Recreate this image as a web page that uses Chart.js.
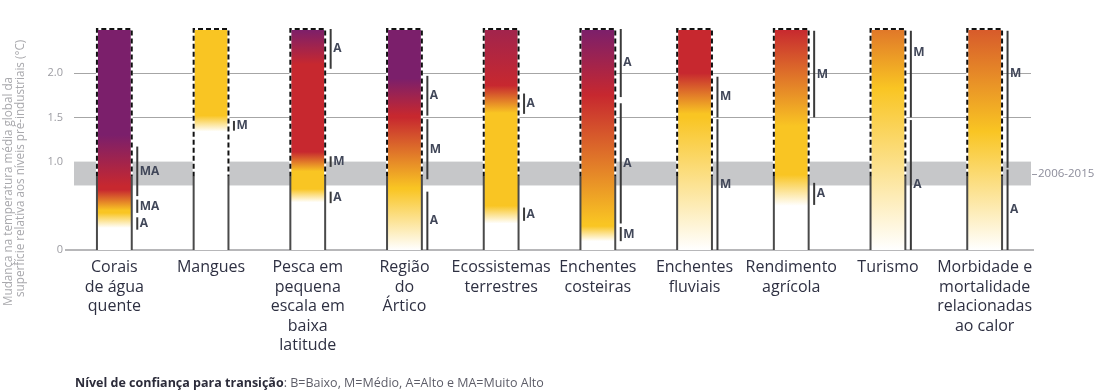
<!DOCTYPE html>
<html lang="pt">
<head>
<meta charset="utf-8">
<title>Níveis de risco por sistema e aquecimento global</title>
<script src="https://cdn.jsdelivr.net/npm/chart.js@4.4.1/dist/chart.umd.min.js"></script>
<style>
  html, body { margin: 0; padding: 0; background: #ffffff; }
  #wrap { position: relative; width: 1098px; height: 391px; }
</style>
</head>
<body>
<div id="wrap"><canvas id="embers" width="1098" height="391"></canvas></div>
<script>
// Sistemas avaliados, um rótulo por categoria (cada entrada é uma linha)
const categories = [
  ['Corais', 'de água', 'quente'],
  ['Mangues'],
  ['Pesca em', 'pequena', 'escala em', 'baixa', 'latitude'],
  ['Região', 'do', 'Ártico'],
  ['Ecossistemas', 'terrestres'],
  ['Enchentes', 'costeiras'],
  ['Enchentes', 'fluviais'],
  ['Rendimento', 'agrícola'],
  ['Turismo'],
  ['Morbidade e', 'mortalidade', 'relacionadas', 'ao calor']
];

// Faixa de aquecimento coberta por cada barra (°C)
const emberSpan = [
  [0, 2.5], [0, 2.5], [0, 2.5], [0, 2.5], [0, 2.5],
  [0, 2.5], [0, 2.5], [0, 2.5], [0, 2.5], [0, 2.5]
];

// Transições de risco (°C): [início, fim]; null quando não ocorre
const undetectableToModerate = [
  [0.25, 0.42], [1.34, 1.52], [0.54, 0.69], [0.0, 0.69], [0.3, 0.5],
  [0.1, 0.27], [0.0, 1.5], [0.5, 0.85], [0.0, 1.83], [0.0, 1.34]
];
const moderateToHigh = [
  [0.45, 0.68], null, [0.89, 1.11], [0.7, 1.5], [1.55, 1.86],
  [0.3, 1.75], [1.54, 2.0], [1.4, 2.5], [1.83, 3.17], [1.34, 3.04]
];
const highToVeryHigh = [
  [0.72, 1.3], null, [2.1, 2.5], [1.52, 1.94], [1.86, 3.15],
  [1.75, 2.5], null, null, null, null
];

// Nível de confiança de cada transição: [de °C, até °C, nível, (posição do rótulo °C)]
const confidence = [
  [[0.23, 0.37, 'A'], [0.42, 0.57, 'MA'], [0.61, 1.17, 'MA']],
  [[1.35, 1.46, 'M']],
  [[0.53, 0.66, 'A'], [0.94, 1.06, 'M'], [2.05, 2.5, 'A']],
  [[0.0, 0.66, 'A'], [0.8, 1.48, 'M'], [1.52, 1.97, 'A']],
  [[0.33, 0.48, 'A'], [1.54, 1.77, 'A']],
  [[0.1, 0.26, 'M'], [0.3, 1.66, 'A'], [1.73, 2.5, 'A']],
  [[0.0, 1.48, 'M'], [1.5, 1.96, 'M']],
  [[0.51, 0.76, 'A'], [1.5, 2.48, 'M']],
  [[0.0, 1.47, 'A'], [1.5, 2.48, 'M', 2.23]],
  [[0.0, 0.91, 'A'], [0.93, 2.48, 'M', 2.0]]
];

// Eixo vertical
const yTickValues = [0, 1.0, 1.5, 2.0];
const gridValues = [1.5, 2.0];
const yTitleLines = [
  'Mudança na temperatura média global da',
  'superfície relativa aos níveis pré-industriais (°C)'
];

// Aquecimento observado 2006-2015 (°C)
const presentBand = [0.73, 1.0];
const presentLabel = '2006-2015';
// Limite superior do contorno contínuo das barras (°C)
const solidEdgeTop = 0.83;

const footerBold = 'Nível de confiança para transição';
const footerRest = ': B=Baixo, M=Médio, A=Alto e MA=Muito Alto';

// Paleta de risco
const RISK = {
  white: [255, 255, 255],
  yellow: [249, 197, 35],
  red: [199, 40, 47],
  purple: [123, 31, 107]
};

const FONT = "'Open Sans', 'DejaVu Sans', sans-serif";
Chart.defaults.font.family = FONT;

function keyPoints(i) {
  const pts = [];
  const a = undetectableToModerate[i], b = moderateToHigh[i], c = highToVeryHigh[i];
  pts.push([a[0], RISK.white], [a[1], RISK.yellow]);
  if (b) pts.push([b[0], RISK.yellow], [b[1], RISK.red]);
  if (c) pts.push([c[0], RISK.red], [c[1], RISK.purple]);
  return pts;
}

function colorAt(pts, t) {
  if (t <= pts[0][0]) return pts[0][1];
  for (let k = 1; k < pts.length; k++) {
    const [t1, c1] = pts[k];
    const [t0, c0] = pts[k - 1];
    if (t <= t1) {
      const f = t1 === t0 ? 1 : (t - t0) / (t1 - t0);
      return c0.map((v, j) => v + (c1[j] - v) * f);
    }
  }
  return pts[pts.length - 1][1];
}

const rgb = c => `rgb(${c.map(v => Math.round(v)).join(',')})`;

function emberGradient(context) {
  const chart = context.chart;
  const { ctx, chartArea, scales } = chart;
  if (!chartArea) return '#ffffff';
  const i = context.dataIndex;
  const [lo, hi] = emberSpan[i];
  const y0 = scales.y.getPixelForValue(lo);
  const y1 = scales.y.getPixelForValue(hi);
  const g = ctx.createLinearGradient(0, y0, 0, y1);
  const pts = keyPoints(i);
  g.addColorStop(0, rgb(colorAt(pts, lo)));
  pts.forEach(([t]) => {
    if (t > lo && t < hi) g.addColorStop((t - lo) / (hi - lo), rgb(colorAt(pts, t)));
  });
  g.addColorStop(1, rgb(colorAt(pts, hi)));
  return g;
}

// Faixa cinzenta do período 2006-2015 e linhas de grade
const backdrop = {
  id: 'backdrop',
  beforeDatasetsDraw(chart) {
    const { ctx, chartArea, scales } = chart;
    const y = scales.y;
    const left = chartArea.left + 8;
    ctx.save();
    ctx.fillStyle = '#c6c7c9';
    const yt = y.getPixelForValue(presentBand[1]);
    const yb = y.getPixelForValue(presentBand[0]);
    ctx.fillRect(left, yt, chartArea.right - 2 - left, yb - yt);
    ctx.strokeStyle = '#a6a6a6';
    ctx.lineWidth = 1.2;
    gridValues.forEach(v => {
      const py = Math.round(y.getPixelForValue(v)) + 0.5;
      ctx.beginPath();
      ctx.moveTo(left, py);
      ctx.lineTo(chartArea.right - 2, py);
      ctx.stroke();
    });
    // rótulo do período
    const ym = (yt + yb) / 2;
    ctx.strokeStyle = '#9a9aa6';
    ctx.lineWidth = 1;
    ctx.beginPath();
    ctx.moveTo(chartArea.right - 1, Math.round(ym) + 0.5);
    ctx.lineTo(chartArea.right + 4, Math.round(ym) + 0.5);
    ctx.stroke();
    ctx.fillStyle = '#8c8c9a';
    ctx.font = `11.5px ${FONT}`;
    ctx.textAlign = 'left';
    ctx.textBaseline = 'middle';
    ctx.fillText(presentLabel, chartArea.right + 5, ym);
    ctx.restore();
  }
};

// Contornos das barras e linhas de confiança
const outlines = {
  id: 'outlines',
  afterDatasetsDraw(chart) {
    const { ctx, scales } = chart;
    const y = scales.y;
    const meta = chart.getDatasetMeta(0);
    ctx.save();
    meta.data.forEach((bar, i) => {
      const half = bar.width / 2;
      const l = bar.x - half, r = bar.x + half;
      const yBase = y.getPixelForValue(emberSpan[i][0]);
      const yTop = y.getPixelForValue(emberSpan[i][1]);
      const ySolid = y.getPixelForValue(solidEdgeTop);

      // trecho contínuo
      ctx.setLineDash([]);
      ctx.strokeStyle = '#4a4a4a';
      ctx.lineWidth = 2;
      [l, r].forEach(x => {
        ctx.beginPath();
        ctx.moveTo(x, yBase);
        ctx.lineTo(x, ySolid);
        ctx.stroke();
      });

      // trecho tracejado
      const path = () => {
        ctx.beginPath();
        ctx.moveTo(l, ySolid);
        ctx.lineTo(l, yTop);
        ctx.lineTo(r, yTop);
        ctx.lineTo(r, ySolid);
      };
      ctx.strokeStyle = '#ffffff';
      ctx.lineWidth = 2;
      path(); ctx.stroke();
      ctx.setLineDash([5, 3]);
      ctx.strokeStyle = '#111111';
      path(); ctx.stroke();
      ctx.setLineDash([]);

      // confiança
      const xc = r + 5.5;
      confidence[i].forEach(seg => {
        const [from, to, level, at] = seg;
        const ya = y.getPixelForValue(from);
        const yb = y.getPixelForValue(to);
        ctx.strokeStyle = '#3a3a3a';
        ctx.lineWidth = 2;
        ctx.beginPath();
        ctx.moveTo(xc, ya);
        ctx.lineTo(xc, yb);
        ctx.stroke();
        const yl = y.getPixelForValue(at !== undefined ? at : (from + to) / 2);
        ctx.fillStyle = '#414759';
        ctx.font = `bold 12px ${FONT}`;
        ctx.textAlign = 'left';
        ctx.textBaseline = 'middle';
        ctx.fillText(level, xc + 2.5, yl);
      });
    });
    ctx.restore();
  }
};

// Título do eixo vertical e legenda de confiança
const annotations = {
  id: 'annotations',
  afterDraw(chart) {
    const { ctx } = chart;
    ctx.save();
    ctx.fillStyle = '#a9a9ad';
    ctx.font = `11.7px ${FONT}`;
    ctx.textAlign = 'left';
    ctx.textBaseline = 'middle';
    [[9, 306], [21, 297]].forEach(([x, yStart], k) => {
      ctx.save();
      ctx.translate(x, yStart);
      ctx.rotate(-Math.PI / 2);
      ctx.fillText(yTitleLines[k], 0, 0);
      ctx.restore();
    });

    ctx.textBaseline = 'alphabetic';
    ctx.font = `bold 12.5px ${FONT}`;
    ctx.fillStyle = '#2c2c3a';
    ctx.fillText(footerBold, 75, 387);
    const w = ctx.measureText(footerBold).width;
    ctx.font = `12.5px ${FONT}`;
    ctx.fillStyle = '#5d5d68';
    ctx.fillText(footerRest, 75 + w, 387);
    ctx.restore();
  }
};

new Chart(document.getElementById('embers'), {
  type: 'bar',
  data: {
    labels: categories,
    datasets: [{
      data: emberSpan,
      backgroundColor: emberGradient,
      borderWidth: 0,
      barPercentage: 0.9,
      categoryPercentage: 0.4
    }]
  },
  options: {
    responsive: false,
    animation: false,
    events: [],
    layout: { padding: { left: 0, right: 65, top: 29, bottom: 0 } },
    plugins: { legend: { display: false }, tooltip: { enabled: false } },
    scales: {
      x: {
        grid: { display: false, drawTicks: false },
        border: { display: true, color: '#b7b7b9', width: 2 },
        ticks: {
          color: '#2e3042',
          font: { size: 16, lineHeight: 1.22 },
          padding: 8,
          maxRotation: 0,
          autoSkip: false
        },
        afterFit(scale) { scale.height = 141; }
      },
      y: {
        min: 0,
        max: 2.5,
        grid: { display: false, drawTicks: false },
        border: { display: false },
        afterBuildTicks(scale) { scale.ticks = yTickValues.map(v => ({ value: v })); },
        ticks: {
          color: '#9c9ca2',
          font: { size: 11 },
          padding: 3,
          callback: v => (v === 0 ? '0' : v.toFixed(1))
        },
        afterFit(scale) { scale.width = 66; }
      }
    }
  },
  plugins: [backdrop, outlines, annotations]
});
</script>
</body>
</html>
